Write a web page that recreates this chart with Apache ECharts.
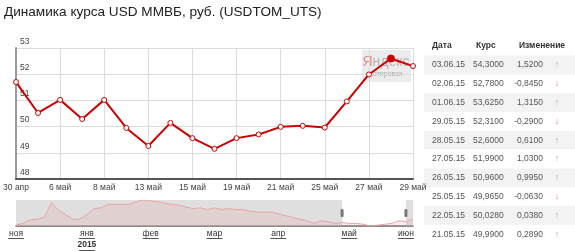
<!DOCTYPE html>
<html><head><meta charset="utf-8">
<script src="https://cdn.jsdelivr.net/npm/echarts@6/dist/echarts.min.js"></script>
<style>html,body{margin:0;padding:0;background:#fff}#c{width:575px;height:251px}</style>
</head><body><div id="c"></div>
<script>
// main chart data
const dates = ['30 апр','5 май','6 май','7 май','8 май','12 май','13 май','14 май','15 май','18 май','19 май','20 май','21 май','22 май','25 май','26 май','27 май','28 май','29 май'];
const rates = [51.70,50.52,51.02,50.29,51.02,49.95,49.26,50.14,49.56,49.15,49.56,49.70,49.99,50.028,49.965,50.96,51.99,52.60,52.31];
const yMin = 48, yMax = 53, yStep = 1;
const highlightIndex = 17;

// navigator data (long range)
const navValues = [41,43,47,48,50,67,58,53,48,48,53,60,61,65,65,65,65,68,70,69,68,66,65,64,62,60,61,59,61,59,60,59,59,57,56,56,56,54,52,50,48,46,43,46,45,43,44,43,43,42,40,41,42,43,46,45,48];
const navMonths = ['ноя','янв','фев','мар','апр','май','июн'];
const navMonthIdx = [0,10,19,28,37,47,55];
const navYearLabel = '2015';
const navWindow = [46,55];

// table data
const tableHeader = ['Дата','Курс','Изменение'];
const tableDates = ['03.06.15','02.06.15','01.06.15','29.05.15','28.05.15','27.05.15','26.05.15','25.05.15','22.05.15','21.05.15'];
const tableRates = ['54,3000','52,7800','53,6250','52,3100','52,6000','51,9900','50,9600','49,9650','50,0280','49,9900'];
const tableChanges = ['1,5200','-0,8450','1,3150','-0,2900','0,6100','1,0300','0,9950','-0,0630','0,0380','0,2890'];

const FONT = '"Liberation Sans", Arial, sans-serif';

const navCats = navValues.map((v, i) => String(i));
const navLabelMap = {};
navMonthIdx.forEach((idx, k) => navLabelMap[idx] = navMonths[k]);

// table graphics
const tbl = [];
const rowY0 = 65, rowH = 18.8;
tbl.push({type:'text', left:432, top:41, style:{text:tableHeader[0], font:'bold 8.5px '+FONT, fill:'#333'}});
tbl.push({type:'text', left:476, top:41, style:{text:tableHeader[1], font:'bold 8.5px '+FONT, fill:'#333'}});
tbl.push({type:'text', left:519, top:41, style:{text:tableHeader[2], font:'bold 8.5px '+FONT, fill:'#333'}});
tableDates.forEach((d, i) => {
  const cy = rowY0 + rowH * i;
  if (i % 2 === 0) {
    tbl.push({type:'rect', shape:{x:424, y:cy - rowH/2, width:151, height:rowH}, style:{fill:'#f3f3f3'}, z:0});
  }
  tbl.push({type:'text', x:432, y:cy, style:{text:d, font:'8.5px '+FONT, fill:'#555', textVerticalAlign:'middle'}, z:1});
  tbl.push({type:'text', x:473, y:cy, style:{text:tableRates[i], font:'8.5px '+FONT, fill:'#555', textVerticalAlign:'middle'}, z:1});
  tbl.push({type:'text', x:543, y:cy, style:{text:tableChanges[i], font:'8.5px '+FONT, fill:'#555', textAlign:'right', textVerticalAlign:'middle'}, z:1});
  const neg = tableChanges[i].charAt(0) === '-';
  tbl.push({type:'text', x:557, y:cy, style:{text: neg ? '↓' : '↑', font:'9px '+FONT, fill: neg ? '#e87070' : '#88cc88', textAlign:'center', textVerticalAlign:'middle'}, z:1});
});

const chart = echarts.init(document.getElementById('c'));
chart.setOption({
  animation: false,
  title: {text:'Динамика курса USD ММВБ, руб. (USDTOM_UTS)', left:0, top:2, padding:[3,4],
    textStyle:{fontFamily:FONT, fontSize:13.6, fontWeight:'normal', color:'#222'}},
  graphic: [
    {type:'rect', shape:{x:362, y:50, width:49, height:32}, style:{fill:'rgba(226,226,226,0.65)'}, z:0},
    {type:'text', x:386, y:62, z:0, style:{text:'{r|Я}{g|ндекс}', textAlign:'center', textVerticalAlign:'middle',
      rich:{r:{fontFamily:FONT, fontSize:14, fill:'rgba(225,110,110,0.75)'}, g:{fontFamily:FONT, fontSize:14, fill:'rgba(170,150,150,0.7)'}}}},
    {type:'text', x:386, y:74, z:0, style:{text:'котировки', font:'7px '+FONT, fill:'rgba(150,150,150,0.8)', textAlign:'center', textVerticalAlign:'middle'}}
  ].concat(tbl),
  grid: [
    {left:16, right:162, top:48, bottom:72},
    {left:16, right:162, top:200, height:30}
  ],
  xAxis: [
    {type:'category', gridIndex:0, data:dates, boundaryGap:false,
      axisLine:{lineStyle:{color:'#555', width:2}}, axisTick:{show:false},
      axisLabel:{interval:1, color:'#444', fontSize:8.5, fontFamily:FONT, margin:4},
      splitLine:{show:true, interval:1, lineStyle:{color:'#dcdcdc'}}},
    {type:'category', gridIndex:1, data:navCats, boundaryGap:false,
      axisLine:{lineStyle:{color:'#666', width:1.5}}, axisTick:{show:false},
      axisLabel:{interval:0, margin:3, color:'#333', fontFamily:FONT,
        formatter: (v, i) => {
          const m = navLabelMap[i];
          if (!m) return '';
          let s = '{a|' + m + '}\n{u| }';
          if (i === navMonthIdx[1]) s += '\n{b|' + navYearLabel + '}\n{u| }';
          return s;
        },
        rich:{
          a:{fontSize:8.5, fontFamily:FONT, color:'#333', lineHeight:9},
          b:{fontSize:8.5, fontFamily:FONT, color:'#333', fontWeight:'bold', lineHeight:11},
          u:{width:16, height:1, lineHeight:1, fontSize:1, backgroundColor:'#555'}
        }},
      splitLine:{show:false}}
  ],
  yAxis: [
    {type:'value', gridIndex:0, min:yMin, max:yMax, interval:yStep,
      axisLine:{show:true, lineStyle:{color:'#999', width:2}}, axisTick:{show:false},
      axisLabel:{inside:true, margin:4, verticalAlign:'bottom', padding:[0,0,2,0], color:'#444', fontSize:8.5, fontFamily:FONT},
      splitLine:{lineStyle:{color:'#dcdcdc'}}},
    {type:'value', gridIndex:1, min:40, max:70, show:false, splitLine:{show:false}}
  ],
  series: [
    {type:'line', xAxisIndex:0, yAxisIndex:0, z:5,
      data: rates.map((v, i) => i === highlightIndex
        ? {value:v, symbolSize:7, itemStyle:{color:'#cc0000', borderColor:'#cc0000'}}
        : v),
      symbol:'circle', symbolSize:5, showAllSymbol:true,
      lineStyle:{color:'#cc0000', width:2},
      itemStyle:{color:'#fff', borderColor:'#cc0000', borderWidth:1}},
    {type:'line', xAxisIndex:1, yAxisIndex:1, data:navValues, symbol:'none',
      lineStyle:{color:'#e6a6a6', width:1},
      areaStyle:{color:'rgba(235,170,170,0.35)'},
      markArea:{silent:true, itemStyle:{color:'rgba(185,185,185,0.45)'},
        data:[[{xAxis:0},{xAxis:navWindow[0]}],[{xAxis:navWindow[1]},{xAxis:navValues.length-1}]]},
      markPoint:{silent:true, symbol:'roundRect', symbolSize:[3,8], label:{show:false},
        itemStyle:{color:'#777'},
        data:[{coord:[navWindow[0], 55]},{coord:[navWindow[1], 55]}]}}
  ]
});
</script>
</body></html>
